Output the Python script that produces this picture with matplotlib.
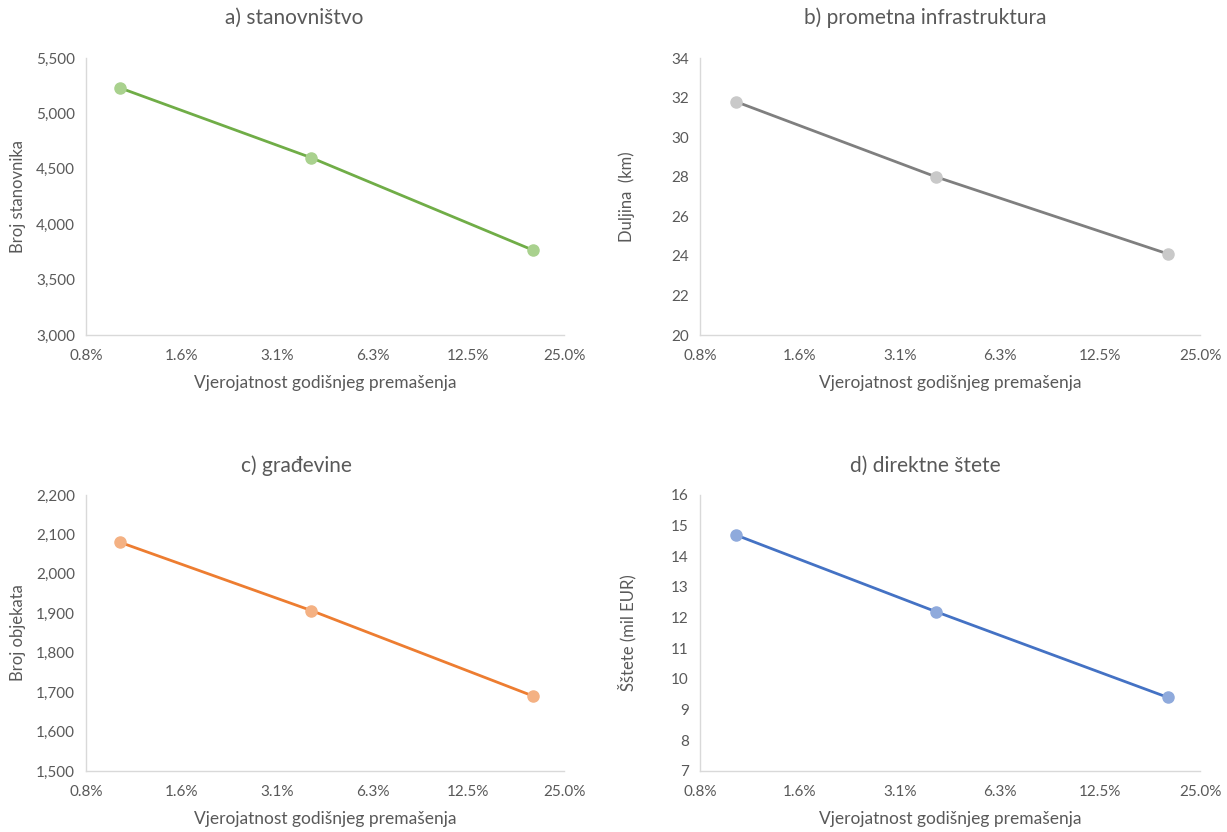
import matplotlib
matplotlib.use("Agg")
import matplotlib.pyplot as plt
from matplotlib.ticker import FixedLocator, FixedFormatter, FuncFormatter, NullLocator

plt.rcParams['font.family'] = ['Lato', 'DejaVu Sans']

# Annual exceedance probability (100-, 25- and 5-year events)
probability = [0.01, 0.04, 0.20]

population = [5230, 4600, 3765]
road_length_km = [31.8, 28.0, 24.1]
buildings = [2080, 1907, 1690]
damage_mil_eur = [14.7, 12.2, 9.4]

x_ticks = [0.0078125, 0.015625, 0.03125, 0.0625, 0.125, 0.25]
x_tick_labels = ["0.8%", "1.6%", "3.1%", "6.3%", "12.5%", "25.0%"]

titles = ["a) stanovništvo", "b) prometna infrastruktura", "c) građevine", "d) direktne štete"]
y_labels = ["Broj stanovnika", "Duljina  (km)", "Broj objekata", "Šštete (mil EUR)"]
x_label = "Vjerojatnost godišnjeg premašenja"

y_ranges = [(3000, 5500, 500), (20, 34, 2), (1500, 2200, 100), (7, 16, 1)]
thousands = [True, False, True, False]

line_colors = ["#70AD47", "#7F7F7F", "#ED7D31", "#4472C4"]
marker_colors = ["#A9D18E", "#C9C9C9", "#F4B183", "#8FAADC"]

series = [population, road_length_km, buildings, damage_mil_eur]

W, H = 1227, 832
fig = plt.figure(figsize=(W / 100, H / 100), dpi=100)

# axes boxes in pixels: left, right, top, bottom
boxes = [(86, 564, 58, 335), (700, 1200, 58, 335),
         (86, 564, 495, 771), (700, 1200, 495, 771)]
title_pos = [(294, 18), (925, 18), (296, 466), (925, 466)]
ylabel_x = [18, 627, 18, 627]

text_color = "#595959"
spine_color = "#D9D9D9"

for i in range(4):
    l, r, t, b = boxes[i]
    ax = fig.add_axes([l / W, 1 - b / H, (r - l) / W, (b - t) / H])
    ax.plot(probability, series[i], color=line_colors[i], lw=2.0,
            marker='o', markersize=8, markerfacecolor=marker_colors[i],
            markeredgecolor=marker_colors[i], zorder=3)
    ax.set_xscale('log', base=2)
    ax.set_xlim(x_ticks[0], x_ticks[-1])
    ax.xaxis.set_major_locator(FixedLocator(x_ticks))
    ax.xaxis.set_major_formatter(FixedFormatter(x_tick_labels))
    ax.xaxis.set_minor_locator(NullLocator())

    lo, hi, step = y_ranges[i]
    ax.set_ylim(lo, hi)
    n = int(round((hi - lo) / step))
    ax.yaxis.set_major_locator(FixedLocator([lo + k * step for k in range(n + 1)]))
    if thousands[i]:
        ax.yaxis.set_major_formatter(FuncFormatter(lambda v, p: f"{v:,.0f}"))
    else:
        ax.yaxis.set_major_formatter(FuncFormatter(lambda v, p: f"{v:.0f}"))

    for s in ['top', 'right']:
        ax.spines[s].set_visible(False)
    for s in ['left', 'bottom']:
        ax.spines[s].set_color(spine_color)
        ax.spines[s].set_linewidth(1.0)
    ax.tick_params(axis='both', length=0, labelsize=11, colors=text_color)
    ax.tick_params(axis='x', pad=10)
    ax.tick_params(axis='y', pad=8)
    ax.set_xlabel(x_label, fontsize=12.5, color=text_color, labelpad=9)

    fig.text(ylabel_x[i] / W, 1 - ((t + b) / 2) / H, y_labels[i], rotation=90,
             ha='center', va='center', fontsize=12, color=text_color)
    tx, ty = title_pos[i]
    fig.text(tx / W, 1 - ty / H, titles[i], ha='center', va='center',
             fontsize=15, color=text_color)

fig.savefig("out.png", dpi=100, facecolor="white")
